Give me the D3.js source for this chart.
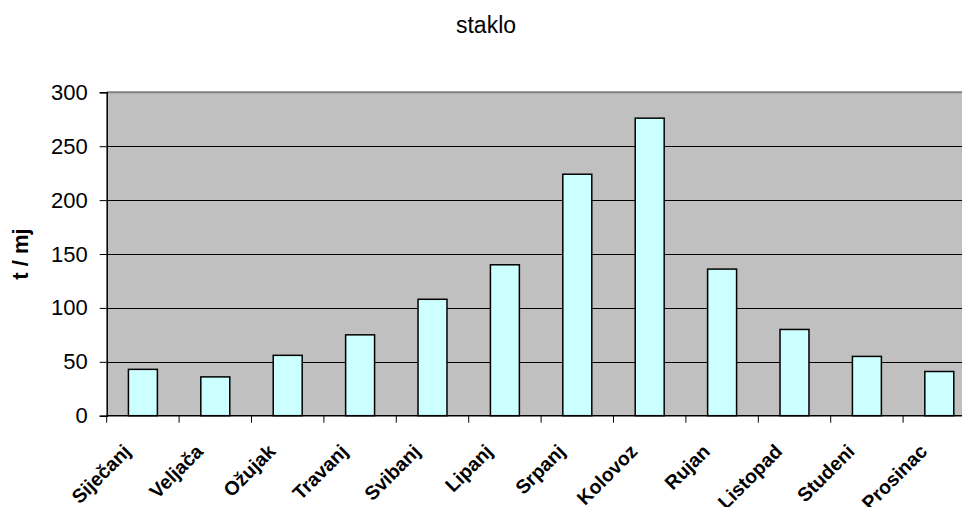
<!DOCTYPE html>
<html>
<head>
<meta charset="utf-8">
<script src="https://cdn.jsdelivr.net/npm/d3@7"></script>
<style>
  html, body { margin: 0; padding: 0; background: #ffffff; }
  svg { display: block; font-family: "Liberation Sans", Arial, sans-serif; }
</style>
</head>
<body>
<svg id="chart" width="962" height="507"></svg>
<script>
// Monthly glass collection (t / month)
const months = ["Siječanj", "Veljača", "Ožujak", "Travanj", "Svibanj", "Lipanj",
                "Srpanj", "Kolovoz", "Rujan", "Listopad", "Studeni", "Prosinac"];
const tonnes = [43, 36, 56, 75, 108, 140, 224, 276, 136, 80, 55, 41];
const yTicks = [0, 50, 100, 150, 200, 250, 300];
const chartTitle = "staklo";
const yAxisTitle = "t / mj";

const svg = d3.select("#chart");
const plot = { left: 106.7, top: 92.3, right: 975.5, bottom: 415.7 };

const x = d3.scaleBand()
  .domain(months)
  .range([plot.left, plot.right])
  .paddingInner(0.6)
  .paddingOuter(0.3);

const y = d3.scaleLinear()
  .domain([0, 300])
  .range([plot.bottom, plot.top]);

// Plot area background
svg.append("rect")
  .attr("x", plot.left).attr("y", plot.top)
  .attr("width", plot.right - plot.left)
  .attr("height", plot.bottom - plot.top)
  .attr("fill", "#c0c0c0");

// Top border of plot area
svg.append("line")
  .attr("x1", plot.left).attr("x2", plot.right)
  .attr("y1", plot.top).attr("y2", plot.top)
  .attr("stroke", "#808080").attr("stroke-width", 2);

// Horizontal gridlines
svg.append("g")
  .selectAll("line")
  .data(yTicks.filter(d => d > 0 && d < 300))
  .join("line")
  .attr("x1", plot.left).attr("x2", plot.right)
  .attr("y1", d => Math.round(y(d)) + 0.5).attr("y2", d => Math.round(y(d)) + 0.5)
  .attr("stroke", "#000").attr("stroke-width", 1);

// Bars
svg.append("g")
  .selectAll("rect")
  .data(months.map((m, i) => ({ m, v: tonnes[i] })))
  .join("rect")
  .attr("x", d => x(d.m))
  .attr("y", d => y(d.v))
  .attr("width", x.bandwidth())
  .attr("height", d => plot.bottom - y(d.v))
  .attr("fill", "#ccffff")
  .attr("stroke", "#000")
  .attr("stroke-width", 1.5);

// Y axis
const yAxis = d3.axisLeft(y)
  .tickValues(yTicks)
  .tickSize(7)
  .tickPadding(12)
  .tickFormat(d3.format("d"));
const gy = svg.append("g")
  .attr("transform", `translate(${plot.left},0)`)
  .call(yAxis);
gy.select(".domain").attr("stroke", "#000").attr("stroke-width", 1.5);
gy.selectAll(".tick line").attr("stroke", "#000");
gy.selectAll(".tick text")
  .attr("font-family", "Liberation Sans, Arial, sans-serif")
  .attr("font-size", 22)
  .attr("fill", "#000");

// X axis: ticks on category boundaries
const step = x.step();
const boundaries = d3.range(months.length + 1).map(i => plot.left + i * step);
const gx = svg.append("g");
gx.append("line")
  .attr("x1", plot.left).attr("x2", plot.right)
  .attr("y1", plot.bottom).attr("y2", plot.bottom)
  .attr("stroke", "#000").attr("stroke-width", 1.5);
gx.selectAll("line.tick")
  .data(boundaries)
  .join("line")
  .attr("class", "tick")
  .attr("x1", d => d).attr("x2", d => d)
  .attr("y1", plot.bottom).attr("y2", plot.bottom + 7)
  .attr("stroke", "#000");

// Rotated month labels
gx.selectAll("text")
  .data(months)
  .join("text")
  .attr("transform", d => `translate(${x(d) + x.bandwidth() / 2 - 11},${plot.bottom + 37}) rotate(-45)`)
  .attr("text-anchor", "end")
  .attr("font-size", 19.5)
  .attr("font-weight", "bold")
  .attr("fill", "#000")
  .text(d => d);

// Title
svg.append("text")
  .attr("x", 486).attr("y", 33)
  .attr("text-anchor", "middle")
  .attr("font-size", 23)
  .attr("fill", "#000")
  .text(chartTitle);

// Y axis title
svg.append("text")
  .attr("transform", `translate(28,${(plot.top + plot.bottom) / 2}) rotate(-90)`)
  .attr("text-anchor", "middle")
  .attr("font-size", 22)
  .attr("font-weight", "bold")
  .attr("fill", "#000")
  .text(yAxisTitle);
</script>
</body>
</html>
